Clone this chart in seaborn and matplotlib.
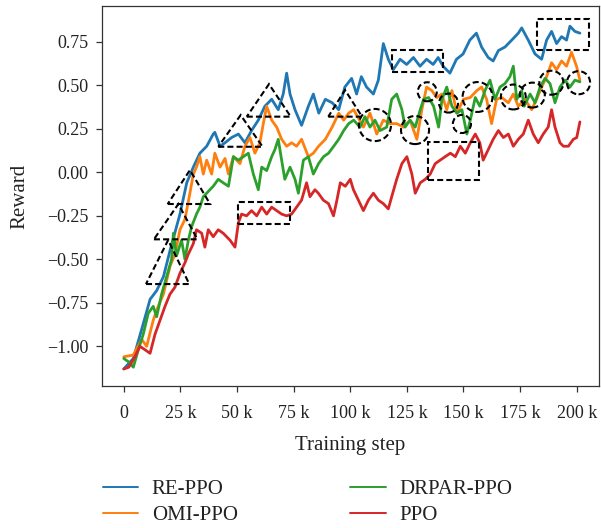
import numpy as np
import pandas as pd
import matplotlib
matplotlib.use("Agg")
import matplotlib.pyplot as plt
from matplotlib.patches import Polygon, Rectangle, Ellipse
import seaborn as sns

# ---------------- data (training step in thousands, reward) ----------------
methods = ["RE-PPO", "OMI-PPO", "DRPAR-PPO", "PPO"]
colors = ["#1f77b4", "#ff7f0e", "#2ca02c", "#d62728"]

re_steps = [0, 4.2, 8.6, 11.6, 14.5, 17.5, 20.4, 22.5, 24.8, 27.8, 30.7, 33.6, 36.6, 39.5, 40.2,
            42.5, 44.7, 47.6, 50.6, 53.5, 56.4, 59.4, 62.3, 65.3, 68.2, 70.4, 71.9, 73.4, 75.6, 78.5,
            81.5, 83.7, 86.1, 89, 92, 94.9, 97.6, 100.6, 102.8, 104.9, 107.2, 110.2, 112.4, 114.6,
            116.8, 119, 122, 124.9, 127.9, 130.8, 133.7, 136.6, 138.8, 141, 144, 146.9, 149.8, 152.8,
            155.7, 158, 160.9, 163.1, 165.4, 168.3, 171.3, 174.2, 175.7, 178.6, 181.6, 184.5, 186.7,
            188.9, 191.1, 193.3, 195.5, 197, 199.2, 201.4]
re_vals = [-1.13, -1.07, -0.87, -0.73, -0.68, -0.60, -0.45, -0.35, -0.24, -0.06, 0.03, 0.11, 0.15, 0.22, 0.23,
           0.15, 0.17, 0.20, 0.22, 0.17, 0.24, 0.30, 0.38, 0.42, 0.36, 0.45, 0.57, 0.45, 0.36, 0.27,
           0.38, 0.45, 0.34, 0.42, 0.40, 0.36, 0.49, 0.54, 0.45, 0.55, 0.49, 0.45, 0.53, 0.74,
           0.65, 0.59, 0.65, 0.62, 0.66, 0.61, 0.65, 0.62, 0.66, 0.61, 0.57, 0.65, 0.68, 0.76,
           0.80, 0.72, 0.66, 0.64, 0.70, 0.72, 0.76, 0.80, 0.83, 0.76, 0.68, 0.65, 0.76,
           0.81, 0.74, 0.78, 0.76, 0.84, 0.81, 0.80]

omi_steps = [0, 4.2, 7.9, 10.1, 13, 15.2, 17.5, 20.4, 22.6, 24.8, 27, 29.2, 30.7, 32.1, 33.6,
             35.1, 36.6, 38.8, 40.2, 42.5, 44.7, 46.2, 48.4, 51.3, 53.5, 55.7, 57.9, 60.1, 61.6, 63.1,
             65.3, 67.5, 69.7, 71.9, 74.1, 76.3, 78.5, 81.5, 83.7, 86, 89, 92, 94.9, 97.1, 99.3,
             101.5, 105.8, 108.7, 111.7, 114.6, 117.6, 120.5, 123.5, 126.4, 129.4, 131.6, 133.7, 136,
             138.2, 140.4, 142.6, 144.9, 147.1, 150, 153, 155.9, 158, 160.2, 162.4, 164.6, 166.9,
             169.8, 172, 174.2, 177.1, 180.1, 182.3, 184.5, 186.7, 188.9, 191.1, 193.3, 195.5, 197.7,
             199.9, 201.4]
omi_vals = [-1.06, -1.05, -0.96, -1.00, -0.85, -0.77, -0.70, -0.54, -0.47, -0.33, -0.27, -0.12, -0.01, 0.03, 0.09,
            -0.01, 0.07, -0.01, 0.11, 0.03, 0.08, -0.01, 0.09, 0.05, 0.15, 0.20, 0.11, 0.17, 0.28, 0.38,
            0.30, 0.26, 0.19, 0.15, 0.17, 0.15, 0.19, 0.09, 0.11, 0.15, 0.19, 0.26, 0.34, 0.30, 0.34,
            0.36, 0.26, 0.34, 0.22, 0.30, 0.28, 0.28, 0.26, 0.30, 0.19, 0.36, 0.49, 0.47,
            0.43, 0.45, 0.36, 0.47, 0.34, 0.42, 0.43, 0.47, 0.49, 0.42, 0.28, 0.42, 0.43,
            0.40, 0.45, 0.38, 0.42, 0.36, 0.42, 0.49, 0.55, 0.63, 0.59, 0.64, 0.61, 0.69,
            0.61, 0.53]

drpar_steps = [0, 2.2, 4.2, 6.4, 8.6, 10.8, 13, 14.5, 16.7, 18.9, 21.1, 21.9, 23.3, 25.5, 27,
               28.5, 30, 32.1, 33.6, 35.1, 36.6, 38, 39.5, 41.7, 43.9, 46.2, 48.4, 50.6, 52.8, 55,
               57.2, 59.4, 60.9, 63.1, 65.3, 66.7, 68.2, 69.7, 71.1, 73.4, 75.6, 77.1, 79.3, 81.5, 83.7,
               86, 88.2, 90.4, 92.7, 94.9, 97.1, 99.3, 101.5, 104.3, 106.5, 108.7, 110.9, 113.2, 116.1,
               118.3, 120.5, 122.8, 124.2, 126.4, 128.7, 130.9, 132.4, 134.6, 136.8, 139, 140.5, 142.6,
               144.9, 147.1, 149.3, 151.5, 153, 155.2, 157.2, 159.5, 161.7, 163.9, 166.1, 168.3, 170.5,
               172, 173.5, 175.7, 176.8, 179.4, 181.6, 183.8, 186, 188.2, 190.4, 192.6, 194.8, 197,
               199.2, 201.4]
drpar_vals = [-1.07, -1.09, -1.12, -1.02, -0.93, -0.81, -0.77, -0.83, -0.70, -0.60, -0.50, -0.35, -0.48, -0.39, -0.50,
              -0.39, -0.31, -0.24, -0.20, -0.14, -0.12, -0.10, -0.08, -0.04, -0.06, -0.08, 0.09, 0.07, 0.09, 0.11,
              -0.01, -0.10, 0.03, 0.01, 0.09, 0.13, 0.19, 0.07, -0.04, 0.03, -0.04, -0.12, 0.07, 0.09, -0.01,
              0.05, 0.09, 0.11, 0.15, 0.19, 0.24, 0.28, 0.30, 0.26, 0.32, 0.26, 0.30, 0.24, 0.26,
              0.42, 0.45, 0.36, 0.26, 0.30, 0.26, 0.36, 0.42, 0.43, 0.38, 0.26, 0.42, 0.49,
              0.38, 0.34, 0.36, 0.22, 0.30, 0.43, 0.38, 0.47, 0.53, 0.42, 0.49, 0.51, 0.55,
              0.61, 0.42, 0.47, 0.38, 0.45, 0.40, 0.49, 0.54, 0.51, 0.40, 0.49, 0.53, 0.49,
              0.53, 0.52]

ppo_steps = [0, 2.2, 4.9, 7.1, 9.4, 11.6, 13.8, 16, 18.2, 20.4, 22.6, 24.8, 27, 28.5, 30.7,
             32.1, 34.4, 35.8, 37.3, 39.5, 41.7, 43.9, 46.9, 49.1, 50.6, 52, 54.2, 56.4, 58.7, 60.9,
             63.1, 65.3, 67.5, 69.7, 71.9, 74.1, 76.3, 78.5, 80.7, 82.2, 84.4, 85.9, 88.1, 90.4, 92.6,
             94.1, 95.6, 97.8, 100, 101.4, 103.6, 105.8, 108, 110.2, 112.4, 114.6, 116.8, 118.3, 120.5,
             122.8, 125, 127.2, 128.7, 130.9, 133.1, 135.3, 137.5, 139.7, 141.9, 144.2, 146.4, 148.6,
             150.8, 153, 155.2, 157.2, 158.7, 160.9, 163.1, 165.4, 167.6, 169.8, 172, 174.2, 176.4,
             178.6, 180.8, 183, 185.2, 187.4, 188.9, 190.4, 192.6, 194.1, 196.3, 198.5, 200, 201.4]
ppo_vals = [-1.13, -1.12, -1.06, -1.00, -1.02, -1.04, -0.93, -0.85, -0.77, -0.70, -0.66, -0.58, -0.52, -0.47, -0.41,
            -0.33, -0.35, -0.43, -0.33, -0.37, -0.33, -0.35, -0.39, -0.43, -0.29, -0.24, -0.25, -0.22, -0.25, -0.20,
            -0.24, -0.20, -0.22, -0.24, -0.25, -0.24, -0.20, -0.16, -0.06, -0.14, -0.10, -0.12, -0.16, -0.18, -0.25,
            -0.16, -0.06, -0.08, -0.04, -0.10, -0.16, -0.22, -0.16, -0.12, -0.16, -0.18, -0.21, -0.14, -0.04,
            0.05, 0.09, -0.01, -0.12, -0.06, -0.04, -0.01, 0.05, 0.07, 0.09, 0.11, 0.09, 0.15,
            0.11, 0.17, 0.22, 0.17, 0.07, 0.13, 0.19, 0.24, 0.20, 0.22, 0.15, 0.19, 0.22,
            0.30, 0.22, 0.17, 0.22, 0.26, 0.36, 0.26, 0.17, 0.15, 0.15, 0.19, 0.20, 0.29]

x_ticks = [0, 25, 50, 75, 100, 125, 150, 175, 200]
x_tick_labels = ["0", "25 k", "50 k", "75 k", "100 k", "125 k", "150 k", "175 k", "200 k"]
y_ticks = [-1.00, -0.75, -0.50, -0.25, 0.00, 0.25, 0.50, 0.75]
y_tick_labels = ["\u22121.00", "\u22120.75", "\u22120.50", "\u22120.25", "0.00", "0.25", "0.50", "0.75"]

# annotation marks (data coordinates: step in k, reward)
tri_left = [9.8, 13.3, 19.4, 41.7, 54.3, 90.3]
tri_right = [28.9, 32.5, 38.1, 61.3, 73.7, 105.2]
tri_base = [-0.642, -0.385, -0.182, 0.147, 0.320, 0.320]
tri_apex_x = [19.6, 24.1, 29.2, 51.6, 64.1, 97.7]
tri_apex_y = [-0.389, -0.182, 0.013, 0.329, 0.507, 0.473]

box_x0 = [50.6, 118.3, 134.2, 182.3]
box_x1 = [73.4, 141.1, 156.8, 205.5]
box_y0 = [-0.297, 0.578, -0.044, 0.703]
box_y1 = [-0.169, 0.703, 0.172, 0.879]

circ_x = [110.9, 128.6, 134.0, 143.4, 149.3, 156.2, 172.0, 180.4, 188.8, 200.8]
circ_y = [0.272, 0.243, 0.463, 0.398, 0.278, 0.433, 0.433, 0.444, 0.515, 0.515]
circ_r = [7.1, 6.2, 4.2, 4.2, 4.0, 6.6, 5.5, 5.5, 5.3, 5.1]

# ---------------- figure ----------------
sns.set_style("ticks")
plt.rcParams['font.family'] = ['Liberation Serif', 'DejaVu Serif']
plt.rcParams['axes.unicode_minus'] = True

W, H = 601, 528
fig = plt.figure(figsize=(W / 100, H / 100), dpi=100)
ax = fig.add_axes([101.6 / W, 1 - 386 / H, (598.7 - 101.6) / W, (386 - 6) / H])

frames = []
for name, s, v in zip(methods,
                      [re_steps, omi_steps, drpar_steps, ppo_steps],
                      [re_vals, omi_vals, drpar_vals, ppo_vals]):
    frames.append(pd.DataFrame({"step": s, "reward": v, "method": name}))
df = pd.concat(frames, ignore_index=True)

sns.lineplot(data=df, x="step", y="reward", hue="method", hue_order=methods,
             palette=colors, linewidth=2.0, estimator=None, sort=False, ax=ax)

ax.set_xlim(-9.8, 209.7)
ax.set_ylim(-1.228, 0.956)
ax.set_xticks(x_ticks)
ax.set_xticklabels(x_tick_labels)
ax.set_yticks(y_ticks)
ax.set_yticklabels(y_tick_labels)

text_col = "#222222"
ax.tick_params(axis="both", labelsize=13, colors="#333333", labelcolor=text_col,
               length=4.5, width=0.9, direction="out")
ax.tick_params(axis="x", pad=9)
ax.tick_params(axis="y", pad=5)
for sp in ax.spines.values():
    sp.set_color("#333333")
    sp.set_linewidth(0.9)

ax.set_xlabel("Training step", fontsize=15, color=text_col, labelpad=10.5)
ax.set_ylabel("Reward", fontsize=15, color=text_col, labelpad=12.5)

# dashed annotation shapes
dash_kw = dict(fill=False, edgecolor="black", linewidth=1.5, linestyle=(0, (2.9, 1.5)), zorder=5)
for xl, xr, yb, axp, ayp in zip(tri_left, tri_right, tri_base, tri_apex_x, tri_apex_y):
    ax.add_patch(Polygon([(xl, yb), (xr, yb), (axp, ayp)], closed=True, **dash_kw))
for x0, x1, y0, y1 in zip(box_x0, box_x1, box_y0, box_y1):
    ax.add_patch(Rectangle((x0, y0), x1 - x0, y1 - y0, **dash_kw))

# circles: make them round in display space
fig.canvas.draw()
p0 = ax.transData.transform((0, 0))
p1 = ax.transData.transform((1, 1))
px_per_x = abs(p1[0] - p0[0])
px_per_y = abs(p1[1] - p0[1])
for cx, cy, r in zip(circ_x, circ_y, circ_r):
    w = 2 * r
    h = 2 * r * px_per_x / px_per_y
    ax.add_patch(Ellipse((cx, cy), w, h, **dash_kw))

# legend below
handles, labels = ax.get_legend_handles_labels()
if ax.get_legend() is not None:
    ax.get_legend().remove()
leg = fig.legend(handles, labels, loc="upper left", bbox_to_anchor=(0.140, 0.1275),
                 ncol=2, frameon=False, fontsize=15, handlelength=1.7,
                 handletextpad=0.65, columnspacing=5.4, labelspacing=0.3,
                 borderpad=0.4)
for line in leg.get_lines():
    line.set_linewidth(1.4)
for t in leg.get_texts():
    t.set_color(text_col)

fig.savefig("out.png", dpi=100)
